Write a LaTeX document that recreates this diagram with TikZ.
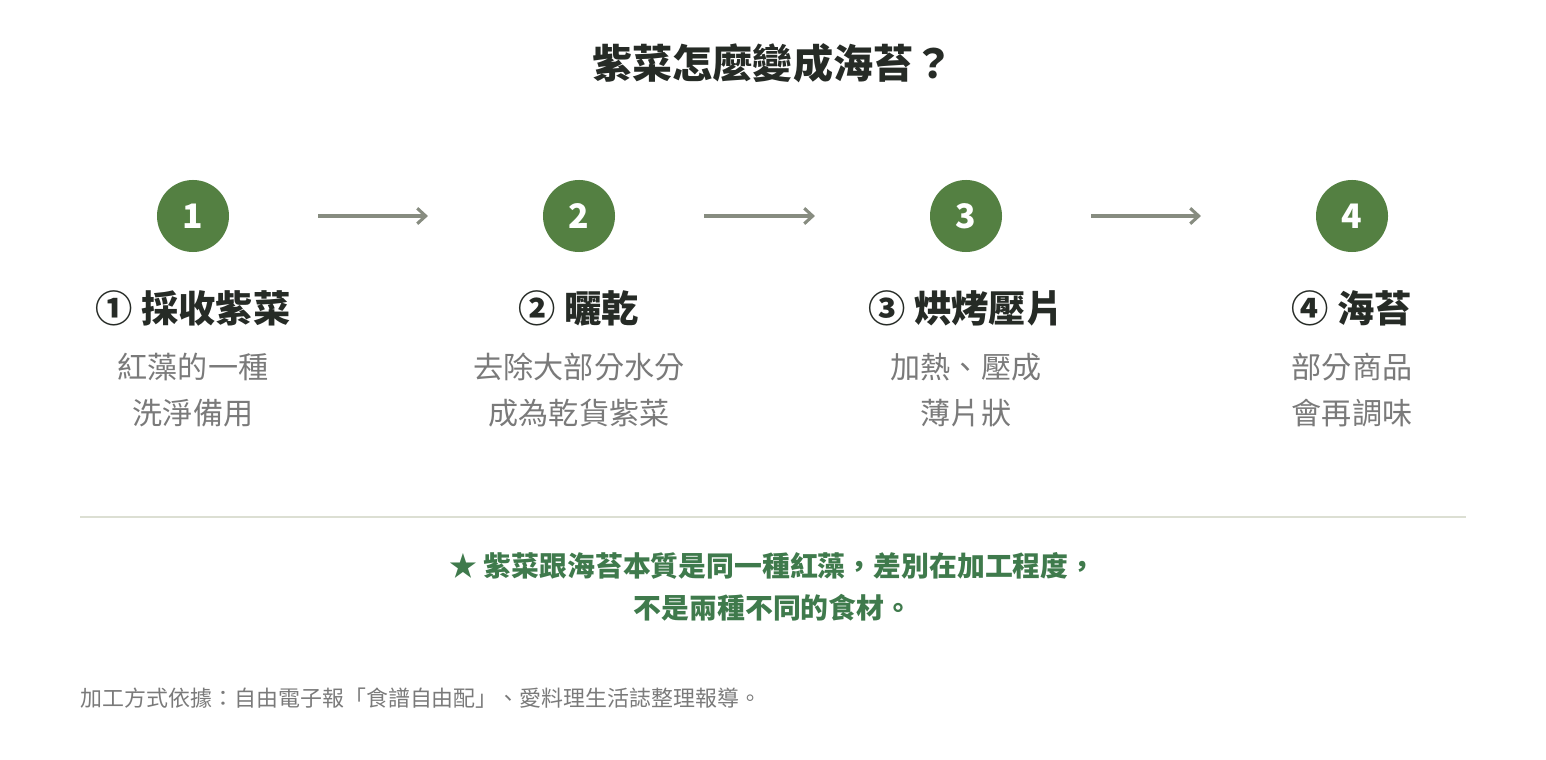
\documentclass[tikz,border=0pt]{standalone}
\usepackage{fontspec}
\setmainfont{Noto Sans CJK TC}
\usetikzlibrary{positioning}
\usetikzlibrary{arrows.meta}
\definecolor{leaf}{HTML}{548042}
\definecolor{notegreen}{HTML}{3F7A4C}
\definecolor{ink}{HTML}{262B26}
\definecolor{soft}{HTML}{7A7A7A}
\definecolor{arrowgray}{HTML}{878C80}
\definecolor{rulegray}{HTML}{DCDFD3}
\tikzset{
  stepdot/.style={circle, fill=leaf, minimum size=1.8cm, inner sep=0pt, text=white, font=\fontsize{24}{26}\selectfont\bfseries},
  steptitle/.style={text=ink, font=\fontsize{26.5}{30}\selectfont\bfseries},
  stepbody/.style={text=soft, align=center, font=\fontsize{21.4}{33}\selectfont},
  flow/.style={-{Straight Barb[length=6pt,width=11pt]}, line width=2.2pt, draw=arrowgray, shorten <=3.125cm, shorten >=3.775cm},
}
\begin{document}
\begin{tikzpicture}[x=0.025cm, y=-0.025cm]
        \useasboundingbox (0,0) rectangle (1546,760);
        \node[text=ink, font=\fontsize{28.5}{34}\selectfont\bfseries] (title) at (773,63) {紫菜怎麼變成海苔？};

        \node[stepdot] (s1) at (193,216) {1};
        \node[stepdot] (s2) at (579,216) {2};
        \node[stepdot] (s3) at (966,216) {3};
        \node[stepdot] (s4) at (1352,216) {4};
        \draw[flow] (s1.center) -- (s2.center);
        \draw[flow] (s2.center) -- (s3.center);
        \draw[flow] (s3.center) -- (s4.center);

        \node[steptitle] (t1) at (193,308) {① 採收紫菜};
        \node[steptitle] (t2) at (579,308) {② 曬乾};
        \node[steptitle] (t3) at (966,308) {③ 烘烤壓片};
        \node[steptitle] (t4) at (1352,308) {④ 海苔};

        \node[stepbody] (b1) at (193,390) {紅藻的一種\\洗淨備用};
        \node[stepbody] (b2) at (579,390) {去除大部分水分\\成為乾貨紫菜};
        \node[stepbody] (b3) at (966,390) {加熱、壓成\\薄片狀};
        \node[stepbody] (b4) at (1352,390) {部分商品\\會再調味};

        \coordinate (ruleL) at (80,517);
        \coordinate (ruleR) at (1466,517);
        \draw[rulegray, line width=1.5pt] (ruleL) -- (ruleR);

        \node[text=notegreen, align=center, font=\fontsize{19.8}{30}\selectfont\bfseries] (note) at (773,587)
          {★ 紫菜跟海苔本質是同一種紅藻，差別在加工程度，\\不是兩種不同的食材。};
        \node[text=soft, anchor=west, font=\fontsize{15.6}{18}\selectfont] (src) at (76,698)
          {加工方式依據：自由電子報「食譜自由配」、愛料理生活誌整理報導。};
\end{tikzpicture}
\end{document}
